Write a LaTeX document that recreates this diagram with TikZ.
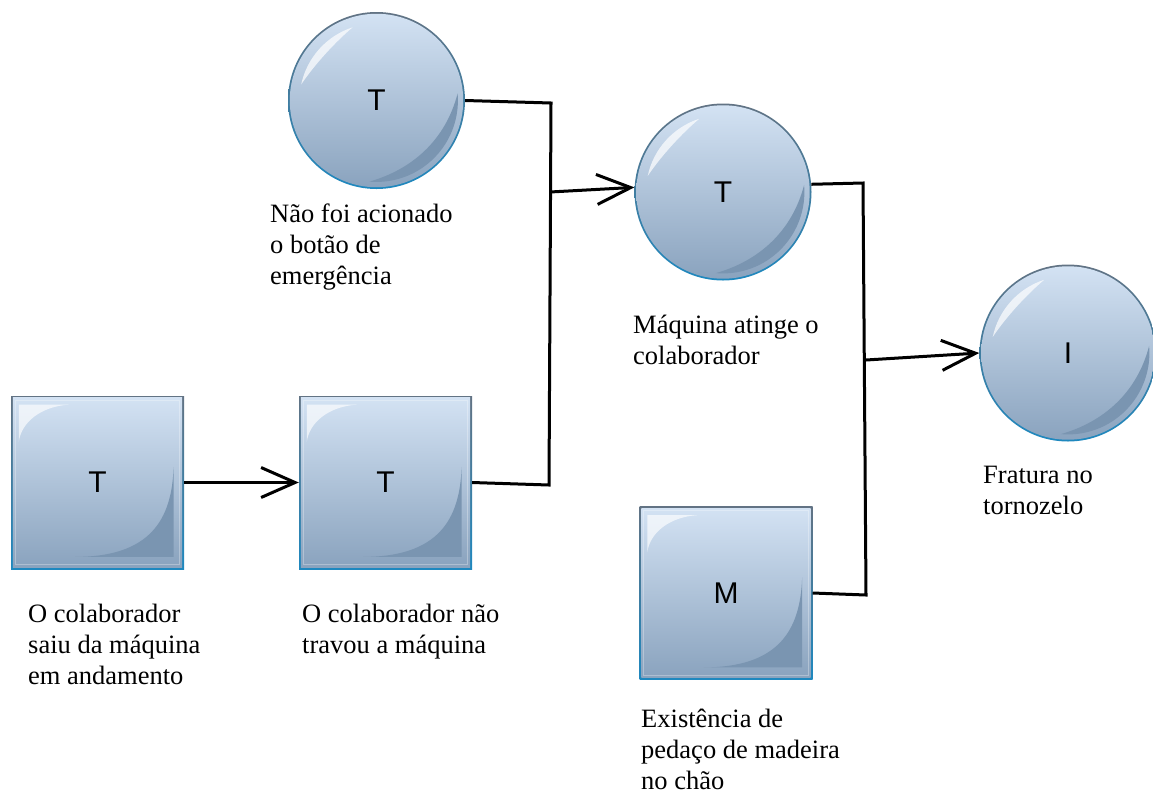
\documentclass[tikz,border=0pt]{standalone}
\usepackage{fontspec}
\setmainfont{Liberation Serif}
\newfontfamily\lsans{Liberation Sans}
\usetikzlibrary{arrows.meta}

\definecolor{rimtop}{HTML}{627384}
\definecolor{rimbot}{HTML}{1E88BF}
\definecolor{bodytop}{HTML}{D3E2F3}
\definecolor{bodybot}{HTML}{8AA3BE}
\definecolor{shadowtone}{HTML}{7A95B1}

% glossy round event drawn around a coordinate
\newcommand\ballart[1]{%
  \begin{scope}[shift={(#1)}, x=88.5pt, y=88.5pt]
    \shade[top color=rimtop, bottom color=rimbot] (0,0) circle[radius=1];
    \shade[top color=bodytop, bottom color=bodybot] (0,0) circle[radius=0.98];
    \fill[shadowtone] (5:0.92) arc[start angle=5, end angle=-95, radius=0.92]
      .. controls (0.4,-0.78) and (0.78,-0.45) .. (5:0.92) -- cycle;
    \fill[white, opacity=.7] (168:0.87) arc[start angle=168, end angle=108, radius=0.87]
      .. controls (125:0.81) and (150:0.81) .. (168:0.87) -- cycle;
  \end{scope}}

% glossy square event drawn around a coordinate
\newcommand\boxart[1]{%
  \begin{scope}[shift={(#1)}, x=86.5pt, y=86.5pt]
    \shade[top color=rimtop, bottom color=rimbot] (-1,-1) rectangle (1,1);
    \shade[top color=bodytop, bottom color=bodybot] (-0.977,-0.977) rectangle (0.977,0.977);
    \draw[white, opacity=.3, line width=1pt] (-0.95,-0.95) rectangle (0.95,0.95);
    \fill[shadowtone] (-0.26,-0.86) .. controls (0.61,-0.86) and (0.86,-0.43) .. (0.88,0.18)
      -- (0.88,-0.86) -- cycle;
    \fill[white, opacity=.65] (-0.91,0.9) -- (-0.33,0.9)
      .. controls (-0.65,0.88) and (-0.88,0.7) .. (-0.91,0.47) -- cycle;
  \end{scope}}

\tikzset{
  ball/.style={circle, minimum size=177pt, inner sep=0pt,
    font=\lsans\fontsize{30}{30}\selectfont},
  box/.style={rectangle, minimum size=173pt, inner sep=0pt,
    font=\lsans\fontsize{30}{30}\selectfont},
  lbl/.style={anchor=base west, align=left, inner sep=0pt,
    font=\fontsize{26.5}{31}\selectfont},
  wire/.style={line width=3pt, black},
  arrowed/.style={-{Straight Barb[length=34pt, width=30pt]}}
}

\begin{document}
\begin{tikzpicture}[x=1pt, y=-1pt]
  \useasboundingbox (0,0) rectangle (1153,796);

  % event positions
  \coordinate (pc1) at (376.5,100.5);
  \coordinate (pc2) at (723,192);
  \coordinate (pc3) at (1068,353);
  \coordinate (ps1) at (97.5,482.5);
  \coordinate (ps2) at (385.5,482.5);
  \coordinate (ps3) at (726,593);

  \ballart{pc1} \ballart{pc2} \ballart{pc3}
  \boxart{ps1} \boxart{ps2} \boxart{ps3}

  % events
  \node[ball] (c1) at (pc1) {T};
  \node[ball] (c2) at (pc2) {T};
  \node[ball] (c3) at (pc3) {I};
  \node[box] (s1) at (ps1) {T};
  \node[box] (s2) at (ps2) {T};
  \node[box] (s3) at (ps3) {M};

  % captions (placed by the baseline of their last line)
  \node[lbl] (l1) at (270,284) {Não foi acionado\\o botão de\\emergência};
  \node[lbl] (l2) at (633,364) {Máquina atinge o\\colaborador};
  \node[lbl] (l3) at (28,684) {O colaborador\\saiu da máquina\\em andamento};
  \node[lbl] (l4) at (302,653) {O colaborador não\\travou a máquina};
  \node[lbl] (l5) at (641,789) {Existência de\\pedaço de madeira\\no chão};
  \node[lbl] (l6) at (983,514) {Fratura no\\tornozelo};

  % junction points
  \coordinate (j1) at (549,485);
  \coordinate (j2) at (551,103);
  \coordinate (j3) at (550,192);
  \coordinate (j4) at (863,183);
  \coordinate (j5) at (866,595);
  \coordinate (j6) at (866,360);

  % connectors
  \draw[wire, arrowed] (s1.east) -- (s2.west);
  \draw[wire] (s2.east) -- (j1) -- (j2) -- (c1.east);
  \draw[wire, arrowed] (j3) -- (c2.177);
  \draw[wire] (c2.5) -- (j4) -- (j5) -- (s3.east);
  \draw[wire, arrowed] (j6) -- (c3.west);
\end{tikzpicture}
\end{document}
